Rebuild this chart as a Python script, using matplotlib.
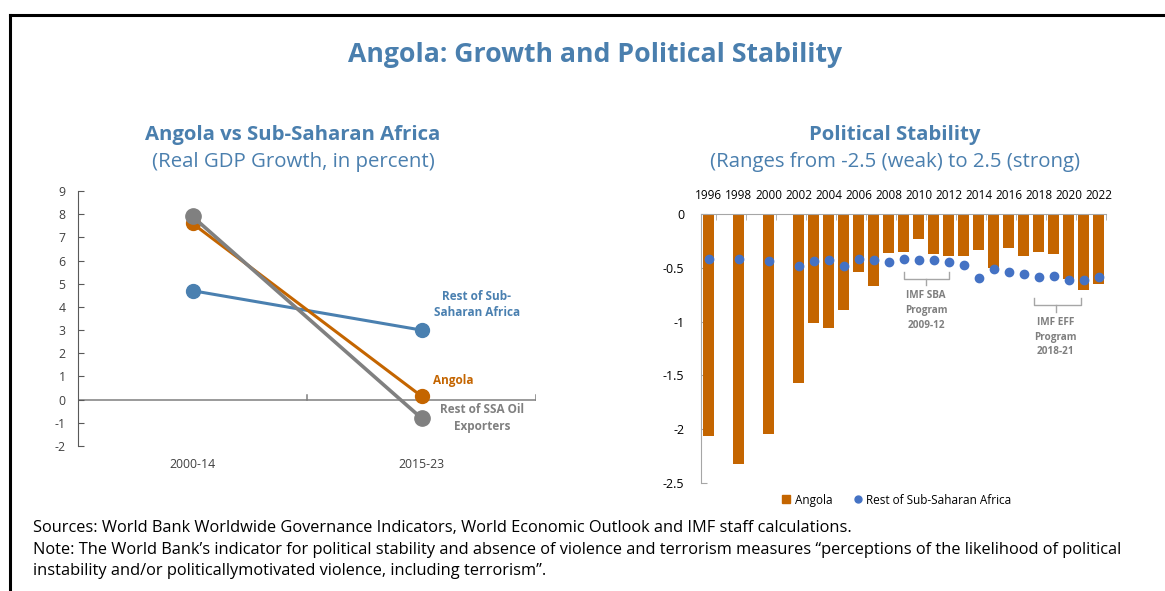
"""Angola growth and political stability panel."""

import matplotlib

matplotlib.use("Agg")
import matplotlib.pyplot as plt
from matplotlib.lines import Line2D
import numpy as np

plt.rcParams["font.family"] = ["Open Sans", "DejaVu Sans"]
plt.rcParams["axes.unicode_minus"] = False

# Left panel: real GDP growth by period
periods = ["2000-14", "2015-23"]
growth_angola = [7.6, 0.15]
growth_rest_ssa = [4.7, 3.0]
growth_oil_exporters = [7.9, -0.8]

# Right panel: political stability index (no data for 1997, 1999, 2001)
nan = np.nan
years = list(range(1996, 2023))
stab_angola = [-2.06, nan, -2.32, nan, -2.04, nan, -1.57, -1.01, -1.06, -0.89,
               -0.54, -0.67, -0.36, -0.35, -0.23, -0.37, -0.39, -0.39, -0.33,
               -0.50, -0.32, -0.39, -0.35, -0.37, -0.60, -0.71, -0.65]
stab_rest_ssa = [-0.42, nan, -0.42, nan, -0.44, nan, -0.48, -0.44, -0.43, -0.48,
                 -0.415, -0.43, -0.45, -0.42, -0.43, -0.43, -0.445, -0.47, -0.595,
                 -0.51, -0.535, -0.56, -0.59, -0.58, -0.61, -0.61, -0.59]

ORANGE = "#c46500"
STEEL = "#4a80b0"
GREY = "#808080"
DOT_BLUE = "#4472c4"
TITLE_BLUE = "#4a7fae"

fig = plt.figure(figsize=(11.65, 5.91), dpi=100)

# border (top and left edges)
fig.add_artist(Line2D([10 / 1165, 10 / 1165], [0, 1 - 15 / 591],
                      transform=fig.transFigure, color="black", lw=2.2))
fig.add_artist(Line2D([10 / 1165, 1], [1 - 15 / 591, 1 - 15 / 591],
                      transform=fig.transFigure, color="black", lw=2.2))

fig.text(595 / 1165, 1 - 55 / 591, "Angola: Growth and Political Stability",
         ha="center", va="center", fontsize=19.2, fontweight="bold", color=TITLE_BLUE)

fig.text(293 / 1165, 1 - 135 / 591, "Angola vs Sub-Saharan Africa",
         ha="center", va="center", fontsize=14.7, fontweight="bold", color=TITLE_BLUE)
fig.text(293 / 1165, 1 - 162 / 591, "(Real GDP Growth, in percent)",
         ha="center", va="center", fontsize=14.7, color=TITLE_BLUE)
fig.text(895 / 1165, 1 - 135 / 591, "Political Stability",
         ha="center", va="center", fontsize=14.7, fontweight="bold", color=TITLE_BLUE)
fig.text(895 / 1165, 1 - 162 / 591, "(Ranges from -2.5 (weak) to 2.5 (strong)",
         ha="center", va="center", fontsize=14.7, color=TITLE_BLUE)

# ---- left: growth lines ----
ax1 = fig.add_axes([78 / 1165, 1 - 446 / 591, 458 / 1165, 255 / 591])
x = np.arange(len(periods))
ax1.plot(x, growth_rest_ssa, color=STEEL, lw=2.2, marker="o", ms=10, zorder=3)
ax1.plot(x, growth_angola, color=ORANGE, lw=2.2, marker="o", ms=10, zorder=4)
ax1.plot(x, growth_oil_exporters, color=GREY, lw=2.6, marker="o", ms=11, zorder=5)
ax1.set_xlim(-0.5, 1.5)
ax1.set_ylim(-2, 9)
ax1.set_yticks(range(-2, 10))
ax1.axhline(0, color="#7f7f7f", lw=1.1, zorder=1)
for b in (0.5, 1.5):
    ax1.plot([b, b], [0, 0.2], color="#7f7f7f", lw=1.1, zorder=1)
ax1.set_xticks(x)
ax1.set_xticklabels(periods)
ax1.tick_params(axis="x", length=0, pad=9, labelsize=8.8, labelcolor="#404040")
ax1.tick_params(axis="y", direction="in", length=4, color="#595959",
                labelsize=8.8, labelcolor="#404040", pad=9)
for side in ("top", "right", "bottom"):
    ax1.spines[side].set_visible(False)
ax1.spines["left"].set_color("#595959")

ax1.text(1.242, 4.1, "Rest of Sub-\nSaharan Africa", ha="center", va="center",
         fontsize=8.5, fontweight="bold", color=STEEL, linespacing=1.35)
ax1.text(1.137, 0.83, "Angola", ha="center", va="center",
         fontsize=8.5, fontweight="bold", color=ORANGE)
ax1.text(1.264, -0.8, "Rest of SSA Oil\nExporters", ha="center", va="center",
         fontsize=8.5, fontweight="bold", color=GREY, linespacing=1.35)

# ---- right: stability bars and dots ----
ax2 = fig.add_axes([701 / 1165, 1 - 483 / 591, 405 / 1165, 269 / 591])
xi = np.arange(len(years))
ax2.bar(xi, stab_angola, width=0.75, color=ORANGE, zorder=2)
ax2.plot(xi, stab_rest_ssa, ls="none", marker="o", ms=6, color=DOT_BLUE, zorder=3)
ax2.set_xlim(-0.5, len(years) - 0.5)
ax2.set_ylim(-2.5, 0)
ax2.set_yticks(np.arange(-2.5, 0.01, 0.5))
ax2.set_yticklabels(["-2.5", "-2", "-1.5", "-1", "-0.5", "0"])
ax2.xaxis.tick_top()
ax2.set_xticks(xi[::2])
ax2.set_xticklabels([str(y) for y in years[::2]])
ax2.set_xticks(xi[::2] + 0.5, minor=True)
ax2.tick_params(axis="x", which="major", length=0, pad=9, labelsize=8.5)
ax2.tick_params(axis="x", which="minor", direction="in", length=4, color="#a6a6a6")
ax2.tick_params(axis="y", direction="in", length=4, color="#a6a6a6",
                labelsize=9, pad=12)
for side in ("right", "bottom"):
    ax2.spines[side].set_visible(False)
for side in ("top", "left"):
    ax2.spines[side].set_color("#a6a6a6")

# programme brackets
def bracket(ax, x0, x1, xc, top, bot, tip, label, ty):
    kw = dict(color="#a6a6a6", lw=1.0, zorder=1, clip_on=False)
    ax.plot([x0, x0, x1, x1], [top, bot, bot, top], **kw)
    ax.plot([xc, xc], [bot, tip], **kw)
    ax.text(xc, ty, label, ha="center", va="top", fontsize=7.2, fontweight="bold",
            color="#7f7f7f", linespacing=1.45)


bracket(ax2, years.index(2009), years.index(2012), years.index(2009) + 1.5,
        -0.54, -0.605, -0.66, "IMF SBA\nProgram\n2009-12", -0.71)
bracket(ax2, years.index(2018) - 0.3, years.index(2020) + 0.8, years.index(2019) + 0.15,
        -0.78, -0.85, -0.91, "IMF EFF\nProgram\n2018-21", -0.96)

handles = [
    Line2D([], [], ls="none", marker="s", ms=6, color=ORANGE, label="Angola"),
    Line2D([], [], ls="none", marker="o", ms=5, color=DOT_BLUE,
           label="Rest of Sub-Saharan Africa"),
]
ax2.legend(handles=handles, loc="upper center", bbox_to_anchor=(0.48, 0.0),
           ncol=2, frameon=False, fontsize=8.5, handletextpad=0.1,
           columnspacing=1.6, handlelength=1.2)

notes = [
    "Sources: World Bank Worldwide Governance Indicators, World Economic Outlook "
    "and IMF staff calculations.",
    "Note: The World Bank\u2019s indicator for political stability and absence of "
    "violence and terrorism measures \u201cperceptions of the likelihood of political",
    "instability and/or politicallymotivated violence, including terrorism\u201d.",
]
for i, line in enumerate(notes):
    fig.text(33 / 1165, 1 - (528 + 21.5 * i) / 591, line, ha="left", va="center",
             fontsize=11.8, color="black")

fig.savefig("out.png", dpi=100)
plt.close(fig)
